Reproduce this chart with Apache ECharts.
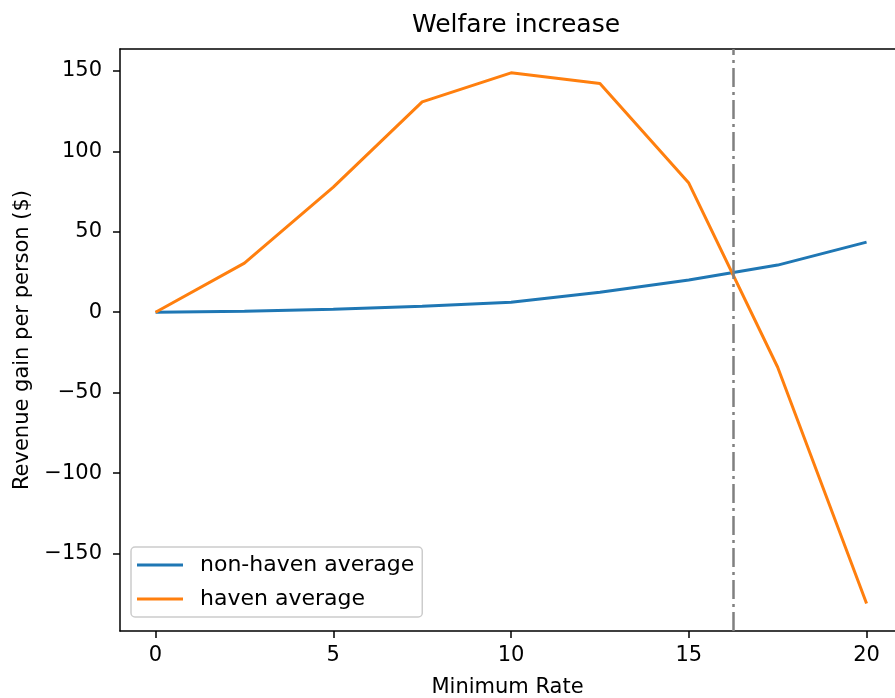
<!DOCTYPE html>
<html>
<head>
<meta charset="utf-8">
<script src="https://cdn.jsdelivr.net/npm/echarts@6/dist/echarts.min.js"></script>
<style>html,body{margin:0;padding:0;background:#fff}#c{width:895px;height:698px}</style>
</head>
<body>
<div id="c"></div>
<script>
const rates = [0, 2.5, 5, 7.5, 10, 12.5, 15, 17.5, 20];
const nonHaven = [0, 0.6, 1.9, 3.7, 6.2, 12.4, 20, 29.3, 43.6];
const haven = [0, 30.5, 77.8, 130.7, 148.8, 142.2, 80.3, -34.2, -181];
const xTicks = [0, 5, 10, 15, 20];
const yTicks = [-150, -100, -50, 0, 50, 100, 150];
const thresholdRate = 16.25;

const FONT = 'DejaVu Sans';
const XMIN = -1, XMAX = 20.8, YMIN = -198.1, YMAX = 163.6;
const minus = v => String(v).replace('-', '\u2212');
const pair = (xs, ys) => xs.map((x, i) => [x, ys[i]]);
const spine = {show: true, onZero: false, lineStyle: {color: '#000', width: 1.5}};
const chart = echarts.init(document.getElementById('c'), null, {renderer: 'canvas'});
chart.setOption({
  animation: false,
  backgroundColor: '#fff',
  title: {
    text: 'Welfare increase', left: 511, top: 8, textAlign: 'center',
    textStyle: {fontFamily: FONT, fontSize: 25, fontWeight: 'normal', color: '#000'}
  },
  grid: {left: 120, top: 49, width: 775, height: 582, show: false, containLabel: false, outerBoundsMode: 'none'},
  legend: {
    orient: 'vertical', left: 131, top: 547,
    padding: [7, 8, 7, 6], itemGap: 12, itemWidth: 46, itemHeight: 3,
    icon: 'rect',
    backgroundColor: 'rgba(255,255,255,0.8)', borderColor: '#cccccc', borderWidth: 1.5, borderRadius: 4,
    textStyle: {fontFamily: FONT, fontSize: 22, color: '#000', lineHeight: 22, padding: [0, 0, 0, 12]},
    data: ['non-haven average', 'haven average']
  },
  xAxis: [{
    type: 'value', min: XMIN, max: XMAX,
    name: 'Minimum Rate', nameLocation: 'middle', nameGap: 46,
    nameTextStyle: {fontFamily: FONT, fontSize: 21, color: '#000'},
    axisLine: spine,
    axisTick: {show: true, length: 7, customValues: xTicks, lineStyle: {color: '#000', width: 1.5}},
    axisLabel: {customValues: xTicks, margin: 14, fontFamily: FONT, fontSize: 21, color: '#000'},
    splitLine: {show: false}
  }, {
    type: 'value', min: XMIN, max: XMAX, position: 'top',
    axisLine: spine, axisTick: {show: false}, axisLabel: {show: false}, splitLine: {show: false}
  }],
  yAxis: {
    type: 'value', min: YMIN, max: YMAX,
    name: 'Revenue gain per person ($)', nameLocation: 'middle', nameGap: 87, nameRotate: 90,
    nameTextStyle: {fontFamily: FONT, fontSize: 21, color: '#000'},
    axisLine: spine,
    axisTick: {show: true, length: 7, customValues: yTicks, lineStyle: {color: '#000', width: 1.5}},
    axisLabel: {customValues: yTicks, margin: 18, fontFamily: FONT, fontSize: 21, color: '#000', formatter: minus},
    splitLine: {show: false}
  },
  series: [
    {
      name: 'non-haven average', type: 'line', data: pair(rates, nonHaven),
      showSymbol: false, symbol: 'none', color: '#1f77b4',
      lineStyle: {width: 3, color: '#1f77b4'}, z: 2
    },
    {
      name: 'haven average', type: 'line', data: pair(rates, haven),
      showSymbol: false, symbol: 'none', color: '#ff7f0e',
      lineStyle: {width: 3, color: '#ff7f0e'}, z: 3,
      markLine: {
        silent: true, symbol: ['none', 'none'], label: {show: false},
        lineStyle: {color: '#808080', width: 2.5, type: [19, 5, 3, 5]},
        data: [{xAxis: thresholdRate}]
      }
    }
  ]
});
</script>
</body>
</html>
